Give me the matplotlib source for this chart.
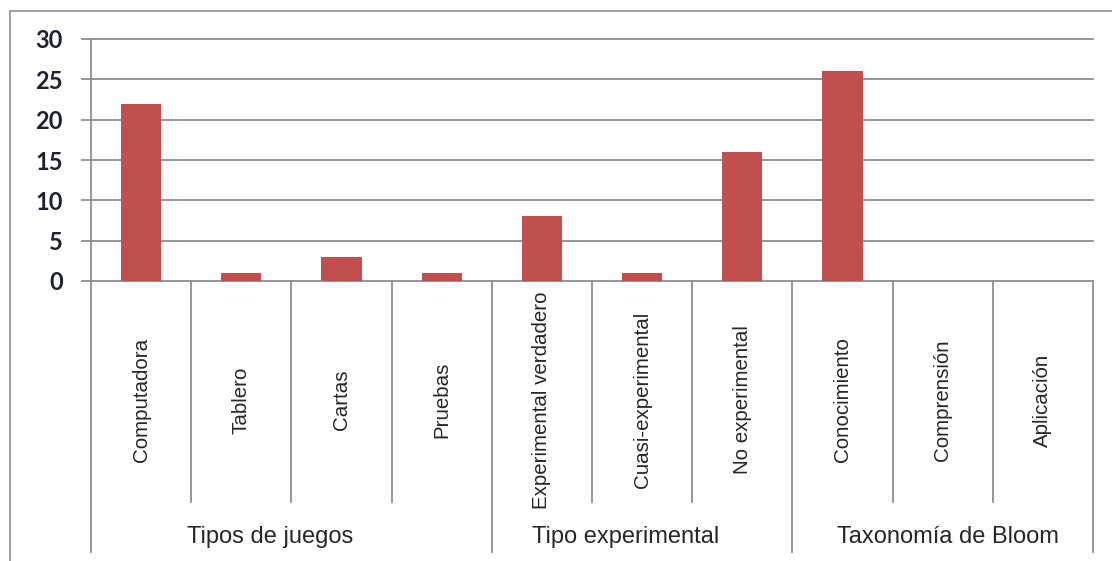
import matplotlib
matplotlib.use("Agg")
import matplotlib.pyplot as plt
import matplotlib.transforms as mtransforms
from matplotlib.lines import Line2D

# data
categories = ["Computadora", "Tablero", "Cartas", "Pruebas",
              "Experimental verdadero", "Cuasi-experimental", "No experimental",
              "Conocimiento", "Comprensión", "Aplicación"]
values = [22, 1, 3, 1, 8, 1, 16, 26, 0, 0]
groups = ["Tipos de juegos", "Tipo experimental", "Taxonomía de Bloom"]
group_sizes = [4, 3, 3]
yticks = [0, 5, 10, 15, 20, 25, 30]

W, H = 1112, 561
fig = plt.figure(figsize=(W / 100, H / 100), dpi=100)
fig.patch.set_facecolor("white")

# plot area in pixels of the reference
x0, x1 = 91, 1093
y_top, y_zero = 39, 281
ax = fig.add_axes([x0 / W, 1 - y_zero / H, (x1 - x0) / W, (y_zero - y_top) / H])

grid_col = "#8e8e8e"
text_col = "#262626"

xs = list(range(len(categories)))
ax.bar(xs, values, width=0.4, color="#C0504D", zorder=3)
ax.set_xlim(-0.5, len(categories) - 0.5)
ax.set_ylim(0, 30)
ax.set_yticks(yticks)
ax.yaxis.grid(True, color=grid_col, linewidth=1.3, zorder=0)
for gl in ax.get_ygridlines():
    gl.set_clip_on(False)
ax.set_axisbelow(True)
for s in ax.spines.values():
    s.set_visible(False)
ax.set_xticks([])
ax.tick_params(axis="y", length=7.2, width=1.3, color=grid_col, pad=13)
for lab in ax.get_yticklabels():
    lab.set_fontfamily(["Lato", "DejaVu Sans"])
    lab.set_fontweight("bold")
    lab.set_fontsize(17)
    lab.set_color("#1f2233")

trans = mtransforms.blended_transform_factory(ax.transData, ax.transAxes)
ah = y_zero - y_top


def ay(py):
    # pixel row in reference -> axes fraction
    return -(py - y_zero) / ah


# separators between categories and groups
bounds = [-0.5]
acc = -0.5
for g in group_sizes:
    acc += g
    bounds.append(acc)
for k in range(len(categories) + 1):
    xb = k - 0.5
    ybot = ay(552) if xb in bounds else ay(502)
    ytop = 1 if k == 0 else 0   # left one doubles as the value axis
    ax.add_line(Line2D([xb, xb], [ytop, ybot], transform=trans, color=grid_col,
                       linewidth=1.3, clip_on=False))

# category labels (rotated)
for i, c in enumerate(categories):
    ax.text(i, ay(400), c, transform=trans, rotation=90, ha="center", va="center",
            fontsize=14.8, color=text_col, family=["Liberation Sans"])

# group labels, nudged a bit like in the original
nudge = [-0.21, -0.16, 0.05]
start = -0.5
for g, n, d in zip(groups, group_sizes, nudge):
    ax.text(start + n / 2 + d, ay(537), g, transform=trans, ha="center", va="center",
            fontsize=17, color=text_col, family=["Liberation Sans"])
    start += n

# outer frame (top and left edges visible)
fig.add_artist(Line2D([10 / W, 1], [1 - 11 / H, 1 - 11 / H], transform=fig.transFigure,
                      color="#9a9a9a", linewidth=1.3))
fig.add_artist(Line2D([10 / W, 10 / W], [0, 1 - 11 / H], transform=fig.transFigure,
                      color="#9a9a9a", linewidth=1.3))

fig.savefig("out.png", dpi=100)
